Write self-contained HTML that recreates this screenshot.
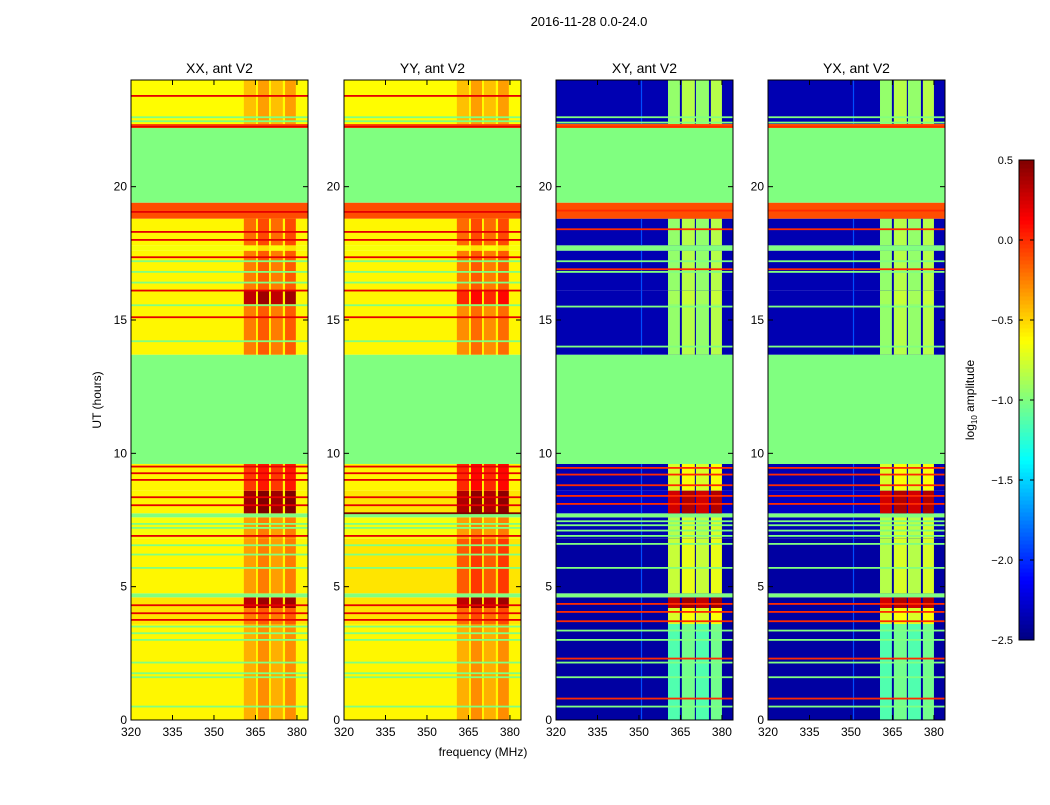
<!DOCTYPE html>
<html><head><meta charset="utf-8"><style>
body{margin:0;background:#fff;font-family:"Liberation Sans",sans-serif;}
svg text{font-family:"Liberation Sans",sans-serif;fill:#000}
</style></head><body>
<svg id="fig" width="1050" height="800" viewBox="0 0 1050 800">
<text x="589" y="26" font-size="13" text-anchor="middle">2016-11-28 0.0-24.0</text>
<text x="483" y="756" font-size="12" text-anchor="middle">frequency (MHz)</text>
<text transform="translate(101,400) rotate(-90)" font-size="12" text-anchor="middle">UT (hours)</text>
<text transform="translate(974,400) rotate(-90)" font-size="12" text-anchor="middle">log<tspan font-size="8" dy="3">10</tspan><tspan dy="-3"> amplitude</tspan></text>
<g id="cbar"></g>
</svg>
<script>
// ---- data ----
const bandStart=[0,3.6,4.2,4.6,4.75,6.8,7.6,7.75,8.6,9.6,13.7,15.6,16.1,17.6,17.8,18.8,19.4,22.2,22.35];
const xxBase=[-0.6,-0.55,-0.55,-1.0,-0.6,-0.65,-1.0,-0.6,-0.6,-1.0,-0.6,-0.6,-0.6,-0.65,-0.6,-0.1,-1.0,-0.1,-0.62];
const xxRfi=[-0.35,-0.2,0.35,-1.0,-0.3,-0.3,-1.0,0.45,0.0,-1.0,-0.2,0.35,-0.2,-0.6,-0.15,-0.1,-1.0,-0.1,-0.4];
const yyBase=[-0.6,-0.55,-0.55,-1.0,-0.55,-0.65,-1.0,-0.55,-0.6,-1.0,-0.6,-0.6,-0.6,-0.65,-0.6,-0.1,-1.0,-0.1,-0.62];
const yyRfi=[-0.35,-0.15,0.35,-1.0,-0.1,-0.3,-1.0,0.4,0.05,-1.0,-0.25,0.05,-0.2,-0.6,-0.15,-0.1,-1.0,-0.1,-0.4];
const xyBase=[-2.4,-2.4,-2.4,-1.0,-2.4,-2.35,-1.0,-2.3,-2.35,-1.0,-2.35,-2.35,-2.35,-1.0,-2.35,-0.1,-1.0,-0.1,-2.35];
const xyRfi=[-1.1,-0.7,0.35,-1.0,-0.75,-0.8,-1.0,0.3,-0.7,-1.0,-0.9,-0.85,-0.9,-1.0,-0.9,-0.1,-1.0,-0.1,-0.9];
const yxBase=[-2.4,-2.4,-2.4,-1.0,-2.4,-2.35,-1.0,-2.3,-2.35,-1.0,-2.35,-2.35,-2.35,-1.0,-2.35,-0.1,-1.0,-0.1,-2.35];
const yxRfi=[-1.1,-0.7,0.3,-1.0,-0.8,-0.8,-1.0,0.3,-0.7,-1.0,-0.9,-0.85,-0.9,-1.0,-0.9,-0.1,-1.0,-0.1,-0.9];
const autoColStart=[360.8,365.9,370.6,375.7];
const autoColEnd=[365.2,369.9,374.9,379.6];
const crossColStart=[360.5,365.5,370.6,376.0];
const crossColEnd=[364.8,370.2,375.3,380.0];
const redLinesAuto=[3.75,4.0,4.3,6.9,8.05,8.35,9.0,9.25,9.5,15.1,16.1,17.35,18.0,18.3,19.05,22.25,23.4];
const greenLines=[0.5,1.6,1.75,2.15,3.0,3.25,3.5,5.7,6.2,6.55,7.2,7.35,14.2,15.55,16.4,16.8,17.2,22.45,22.6];
const crossGreenLines=[0.5,1.6,2.15,3.0,3.35,4.65,5.7,6.6,6.9,7.1,7.3,7.45,14.0,15.5,16.8,17.2,17.7,22.4,22.6];
const crossRedLines=[0.8,2.3,3.7,4.05,4.35,8.1,8.4,8.8,9.2,9.45,16.9,18.4,19.1,22.25];
const xTicks=[320,335,350,365,380];
const yTicks=[0,5,10,15,20];
const cbTicks=[0.5,0.0,-0.5,-1.0,-1.5,-2.0,-2.5];
const cbLabels=["0.5","0.0","\u22120.5","\u22121.0","\u22121.5","\u22122.0","\u22122.5"];

const panels=[
 {name:"xx",title:"XX, ant V2",x0:131,base:xxBase,rfi:xxRfi,reds:redLinesAuto,greens:greenLines,spike:null,cs:autoColStart,ce:autoColEnd,redV:0.2},
 {name:"yy",title:"YY, ant V2",x0:344,base:yyBase,rfi:yyRfi,reds:redLinesAuto.concat([7.75]),greens:greenLines,spike:null,cs:autoColStart,ce:autoColEnd,redV:0.2},
 {name:"xy",title:"XY, ant V2",x0:556,base:xyBase,rfi:xyRfi,reds:crossRedLines,greens:crossGreenLines,spike:350.7,cs:crossColStart,ce:crossColEnd,redV:0.0},
 {name:"yx",title:"YX, ant V2",x0:768,base:yxBase,rfi:yxRfi,reds:crossRedLines,greens:crossGreenLines,spike:350.7,cs:crossColStart,ce:crossColEnd,redV:0.0}
];
const W=177,Y0=80,Y1=720,FMIN=320,FMAX=384,TMAX=24;
const NS="http://www.w3.org/2000/svg";
function jet(v){let t=(v+2.5)/3;t=Math.max(0,Math.min(1,t));
 const c=x=>Math.round(255*Math.max(0,Math.min(1,1.5-Math.abs(x))));
 return `rgb(${c(4*t-3)},${c(4*t-2)},${c(4*t-1)})`;}
function mk(tag,attrs,parent){const e=document.createElementNS(NS,tag);for(const k in attrs)e.setAttribute(k,attrs[k]);parent.appendChild(e);return e;}
const svg=document.getElementById('fig');
panels.forEach(p=>{
 const xs=f=>p.x0+(f-FMIN)/(FMAX-FMIN)*W;
 const ys=h=>Y1-h/TMAX*(Y1-Y0);
 const g=mk('g',{},svg);
 
 
 bandStart.forEach((s,i)=>{
  const e=i+1<bandStart.length?bandStart[i+1]:TMAX;
  const r=mk('rect',{x:p.x0,y:ys(e),width:W,height:ys(s)-ys(e),fill:jet(p.base[i])},g);
  
  
  if(p.rfi[i]!==p.base[i]){
   p.cs.forEach((c0,j)=>{
    const v=p.rfi[i]+(j%2?0.06:-0.04);
    const rc=mk('rect',{x:xs(c0),y:ys(e),width:xs(p.ce[j])-xs(c0),height:ys(s)-ys(e),fill:jet(v)},g);
    
    
   });
   if(p.spike!==null && p.base[i]<-2){
    const sp=mk('rect',{x:xs(p.spike),y:ys(e),width:1.2,height:ys(s)-ys(e),fill:jet(-1.9)},g);
    
    
   }
  }
 });
 p.greens.forEach(h=>{const l=mk('rect',{x:p.x0,y:ys(h)-1,width:W,height:1.8,fill:jet(-1.0)},g);
  
  });
 p.reds.forEach(h=>{const l=mk('rect',{x:p.x0,y:ys(h)-1,width:W,height:1.8,fill:h===7.75?jet(0.5):jet(p.redV)},g);
  
  });
 const fr=mk('rect',{x:p.x0,y:Y0,width:W,height:Y1-Y0,fill:'none',stroke:'#000','stroke-width':1},g);
 
 
 const tt=mk('text',{x:p.x0+W/2,y:73,'font-size':14,'text-anchor':'middle'},g);tt.textContent=p.title;
 
 
 xTicks.forEach(f=>{const x=xs(f);
  mk('line',{x1:x,x2:x,y1:Y1,y2:Y1-5,stroke:'#000'},g);mk('line',{x1:x,x2:x,y1:Y0,y2:Y0+5,stroke:'#000'},g);
  const t=mk('text',{x:x,y:Y1+16,'font-size':12,'text-anchor':'middle'},g);t.textContent=f;
  
  });
 yTicks.forEach(h=>{const y=ys(h);
  mk('line',{x1:p.x0,x2:p.x0+5,y1:y,y2:y,stroke:'#000'},g);mk('line',{x1:p.x0+W,x2:p.x0+W-5,y1:y,y2:y,stroke:'#000'},g);
  const t=mk('text',{x:p.x0-4,y:y+4,'font-size':12,'text-anchor':'end'},g);t.textContent=h;
  
  });
});
// colorbar
const cb=document.getElementById('cbar');
const CX=1019,CW=15,CT=160,CB=640,VMIN=-2.5,VMAX=0.5;
const cy=v=>CB-(v-VMIN)/(VMAX-VMIN)*(CB-CT);
for(let k=0;k<120;k++){const v0=VMIN+k*(VMAX-VMIN)/120;
 mk('rect',{x:CX,y:cy(v0+(VMAX-VMIN)/120)-0.5,width:CW,height:(CB-CT)/120+1,fill:jet(v0+0.0125)},cb);}
mk('rect',{x:CX,y:CT,width:CW,height:CB-CT,fill:'none',stroke:'#000'},cb);
cbTicks.forEach((v,i)=>{const y=cy(v);
 mk('line',{x1:CX,x2:CX+CW,y1:y,y2:y,stroke:'#000','stroke-dasharray':'4 7'},cb);
 const t=mk('text',{x:CX-6,y:y+4,'font-size':11,'text-anchor':'end'},cb);
 t.textContent=cbLabels[i];
 
 });
</script>
</body></html>
